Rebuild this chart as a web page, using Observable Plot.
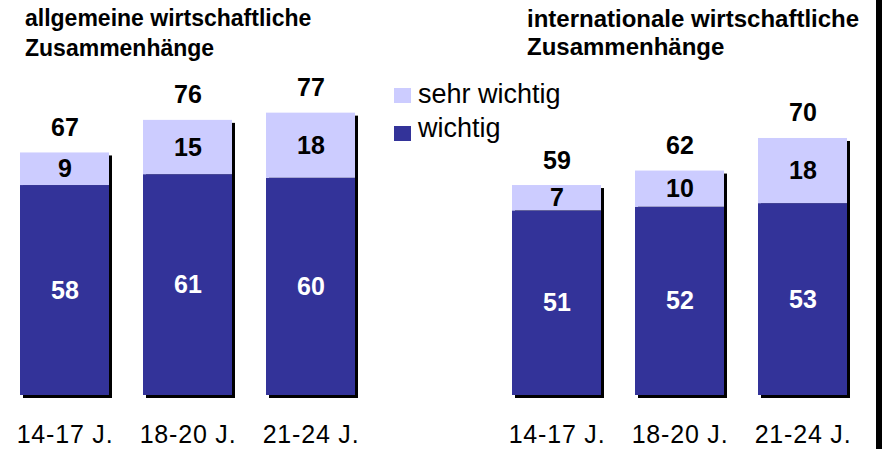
<!DOCTYPE html>
<html>
<head>
<meta charset="utf-8">
<script src="https://cdn.jsdelivr.net/npm/d3@7"></script>
<script src="https://cdn.jsdelivr.net/npm/@observablehq/plot@0.6"></script>
<style>
  html, body { margin: 0; padding: 0; background: #fff; }
  #wrap { position: relative; width: 884px; height: 449px; overflow: hidden; font-family: "Liberation Sans", Arial, sans-serif; }
  .title { position: absolute; font-weight: bold; line-height: 30px; color: #000; white-space: nowrap; }
  .leg { position: absolute; font-size: 27px; line-height: 30px; color: #000; white-space: nowrap; }
  .sw { position: absolute; width: 17px; height: 15px; }
  #edge { position: absolute; left: 876px; top: 0; width: 6px; height: 449px; background: #000; }
  svg [aria-label="x-axis tick label"] text { letter-spacing: 0.8px; }
</style>
</head>
<body>
<div id="wrap">
  <div id="chart"></div>
  <div class="title" style="left:25px; top:3px; font-size:23px;">allgemeine wirtschaftliche<br>Zusammenhänge</div>
  <div class="title" style="left:527px; top:5px; font-size:24px; line-height:28px;">internationale wirtschaftliche<br>Zusammenhänge</div>
  <div class="sw" style="left:394px; top:88px; background:#CCCCFF;"></div>
  <div class="leg" style="left:418px; top:79px;">sehr wichtig</div>
  <div class="sw" style="left:394px; top:126px; background:#333399;"></div>
  <div class="leg" style="left:418px; top:113px;">wichtig</div>
  <div id="edge"></div>
</div>
<script>
// ---- data ----
const ageGroups = ["14-17 J.", "18-20 J.", "21-24 J."];
const panels = ["allgemein", "international"];
const seriesNames = ["wichtig", "sehr wichtig"];
const seriesColors = ["#333399", "#CCCCFF"];

const wichtigAllgemein = [58, 61, 60];
const sehrWichtigAllgemein = [9, 15, 18];
const totalAllgemein = [67, 76, 77];

const wichtigInternational = [51, 52, 53];
const sehrWichtigInternational = [7, 10, 18];
const totalInternational = [59, 62, 70];

// ---- build tables ----
const panelData = {
  allgemein: {w: wichtigAllgemein, s: sehrWichtigAllgemein, t: totalAllgemein},
  international: {w: wichtigInternational, s: sehrWichtigInternational, t: totalInternational}
};
const keyOf = (p, a) => p + "|" + a;
const xDomain = [
  ...ageGroups.map(a => keyOf(panels[0], a)),
  "gap",
  ...ageGroups.map(a => keyOf(panels[1], a))
];
const tickKeys = xDomain.filter(k => k !== "gap");

const segments = [];
const totals = [];
for (const p of panels) {
  const d = panelData[p];
  ageGroups.forEach((a, i) => {
    segments.push({key: keyOf(p, a), series: seriesNames[0], value: d.w[i]});
    segments.push({key: keyOf(p, a), series: seriesNames[1], value: d.s[i]});
    totals.push({key: keyOf(p, a), top: d.w[i] + d.s[i], total: d.t[i]});
  });
}

const numFont = {fontSize: 25, fontWeight: "bold"};

const chart = Plot.plot({
  width: 884,
  height: 449,
  marginLeft: 18,
  marginRight: 36,
  marginTop: 33,
  marginBottom: 54,
  style: {fontFamily: "'Liberation Sans', Arial, sans-serif", background: "transparent", overflow: "visible"},
  x: {type: "band", domain: xDomain, paddingInner: 0.28, paddingOuter: 0, label: null},
  y: {domain: [0, 100], axis: null},
  color: {domain: seriesNames, range: seriesColors},
  marks: [
    Plot.barY(totals, {x: "key", y: "top", fill: "black", dx: 3, dy: 3}),
    Plot.barY(segments, {x: "key", y: "value", fill: "series", z: "series"}),
    Plot.text(segments, Plot.stackY({
      x: "key", y: "value", z: "series",
      text: d => d.series === "wichtig" ? String(d.value) : null,
      fill: "white", ...numFont
    })),
    Plot.text(segments, Plot.stackY({
      x: "key", y: "value", z: "series",
      text: d => d.series === "sehr wichtig" ? String(d.value) : null,
      fill: "black", ...numFont
    })),
    Plot.text(totals, {x: "key", y: "top", text: "total", lineAnchor: "bottom", dy: -17, fill: "black", ...numFont}),
    Plot.axisX({ticks: tickKeys, tickFormat: d => d.split("|")[1], tickSize: 0, tickPadding: 30, fontSize: 25, label: null})
  ]
});
chart.style.position = "absolute";
chart.style.left = "0px";
chart.style.top = "0px";
document.getElementById("chart").appendChild(chart);
</script>
</body>
</html>
